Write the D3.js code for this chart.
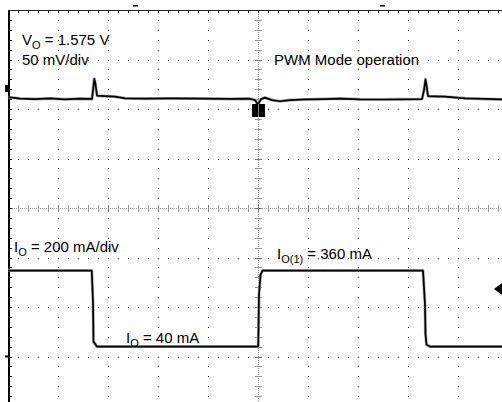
<!DOCTYPE html>
<html>
<head>
<meta charset="utf-8">
<script src="https://cdn.jsdelivr.net/npm/d3@7"></script>
<style>
  body { margin: 0; background: #fff; }
  svg { display: block; }
  text { font-family: "Liberation Sans", Arial, sans-serif; fill: #000; }
</style>
</head>
<body>
<div id="chart"></div>
<script>
// Scope screen: 10 x 8 divisions, right/bottom edges fall outside the picture.
var width = 502, height = 402;

// Channel 1 (V_O, 50 mV/div): time in divisions, deviation from 1.575 V in mV
var vTime = [0, 0.24, 0.54, 0.84, 1.14, 1.44, 1.68, 1.70, 1.726, 1.75, 1.78, 1.94, 2.14, 2.34, 2.74,
  3.24, 3.84, 4.44, 4.84, 4.94, 5.0, 5.06, 5.14, 5.28, 5.44, 5.64, 5.94, 6.34, 6.64, 7.04, 7.44,
  7.84, 8.28, 8.32, 8.35, 8.37, 8.40, 8.74, 9.14, 9.54, 9.88, 10];
var vMilli = [1.5, 0, -0.5, 0.2, -0.7, -0.1, -0.3, 8.5, 20, 14.5, 3, 2.5, 2, 0.3, -0.1,
  0.2, 0, -0.3, -0.1, -1.5, -6, -0.5, 1, -1.5, -2.7, -1.5, -0.8, -0.5, 0, -0.7, -0.9,
  -0.7, -0.5, 8.5, 19.5, 13.5, 2.5, 2, 0.3, -0.3, -0.8, -0.5];

// Channel 2 (I_O, 200 mA/div): time in divisions, current in mA
var iTime = [0, 1.675, 1.70, 1.71, 1.78, 5.0, 5.005, 5.02, 5.05, 5.09, 8.30, 8.34, 8.35, 8.37, 8.44, 10];
var iMilli = [347, 347, 220, 60, 40, 40, 45, 250, 330, 347, 347, 210, 90, 48, 40, 40];

var labels = [
  { x: 22, y: 45, main: "V", sub: "O", rest: " = 1.575 V" },
  { x: 22, y: 65, main: "50 mV/div", sub: "", rest: "" },
  { x: 274, y: 65, main: "PWM Mode operation", sub: "", rest: "" },
  { x: 14, y: 252, main: "I", sub: "O", rest: " = 200 mA/div" },
  { x: 277, y: 259, main: "I", sub: "O(1)", rest: " = 360 mA" },
  { x: 126, y: 343, main: "I", sub: "O", rest: " = 40 mA" }
];

var x = d3.scaleLinear().domain([0, 10]).range([8, 508]);
var yDiv = d3.scaleLinear().domain([0, 8]).range([406, 10]);

// channel offsets, in divisions from the bottom of the screen
var ch1Offset = 6.21, ch2Offset = 1;
var yV = d3.scaleLinear().domain([-ch1Offset * 50, (8 - ch1Offset) * 50]).range([406, 10]);
var yI = d3.scaleLinear().domain([-ch2Offset * 200, (8 - ch2Offset) * 200]).range([406, 10]);

var svg = d3.select("#chart").append("svg")
  .attr("width", width)
  .attr("height", height);

var grid = svg.append("g");
var minorX = d3.range(0, 10.01, 0.2);
var minorY = d3.range(0, 8.01, 0.2);

// dotted graticule lines
[1, 2, 3, 4, 6, 7, 8, 9].forEach(function(d) {
  grid.selectAll(null).data(minorY).enter().append("rect")
    .attr("x", Math.round(x(d)))
    .attr("y", function(v) { return Math.round(yDiv(v)); })
    .attr("width", 1).attr("height", 1)
    .attr("fill", "#222");
});
[1, 2, 3, 5, 6, 7].forEach(function(d) {
  grid.selectAll(null).data(minorX).enter().append("rect")
    .attr("x", function(v) { return Math.round(x(v)); })
    .attr("y", Math.round(yDiv(d)))
    .attr("width", 1).attr("height", 1)
    .attr("fill", "#222");
});

// centre axes with minor ticks
grid.append("line")
  .attr("x1", x(0)).attr("x2", x(10))
  .attr("y1", Math.round(yDiv(4)) + 0.5).attr("y2", Math.round(yDiv(4)) + 0.5)
  .attr("stroke", "#999").attr("stroke-dasharray", "1,1");
grid.append("line")
  .attr("x1", Math.round(x(5)) + 0.5).attr("x2", Math.round(x(5)) + 0.5)
  .attr("y1", yDiv(8)).attr("y2", yDiv(0))
  .attr("stroke", "#999").attr("stroke-dasharray", "1,1");
grid.selectAll(null).data(minorX).enter().append("line")
  .attr("x1", function(v) { return Math.round(x(v)) + 0.5; })
  .attr("x2", function(v) { return Math.round(x(v)) + 0.5; })
  .attr("y1", Math.round(yDiv(4)) - 3).attr("y2", Math.round(yDiv(4)) + 4)
  .attr("stroke", function(v) { return Math.abs(v - Math.round(v)) < 1e-6 ? "#777" : "#999"; });
grid.selectAll(null).data(minorY).enter().append("line")
  .attr("y1", function(v) { return Math.round(yDiv(v)) + 0.5; })
  .attr("y2", function(v) { return Math.round(yDiv(v)) + 0.5; })
  .attr("x1", Math.round(x(5)) - 3).attr("x2", Math.round(x(5)) + 4)
  .attr("stroke", function(v) { return Math.abs(v - Math.round(v)) < 1e-6 ? "#777" : "#999"; });

// border: top and left edges with ticks
grid.append("line")
  .attr("x1", x(0)).attr("x2", x(10))
  .attr("y1", yDiv(8) + 0.5).attr("y2", yDiv(8) + 0.5)
  .attr("stroke", "#222");
grid.selectAll(null).data(minorX).enter().append("rect")
  .attr("x", function(v) { return Math.round(x(v)); })
  .attr("y", yDiv(8) + 1).attr("width", 1).attr("height", 2)
  .attr("fill", "#222");
grid.append("line")
  .attr("x1", x(0) + 1).attr("x2", x(0) + 1)
  .attr("y1", yDiv(8)).attr("y2", height)
  .attr("stroke", "#000").attr("stroke-width", 2);
grid.selectAll(null).data(minorY).enter().append("rect")
  .attr("x", x(0) + 2)
  .attr("y", function(v) { return Math.round(yDiv(v)); })
  .attr("width", 2).attr("height", 1)
  .attr("fill", "#222");

// traces
var vLine = d3.line()
  .x(function(d, i) { return x(vTime[i]); })
  .y(function(d) { return yV(d); });
var iLine = d3.line()
  .x(function(d, i) { return x(iTime[i]); })
  .y(function(d) { return yI(d); });

[[vMilli, vLine], [iMilli, iLine]].forEach(function(t) {
  svg.append("path").attr("d", t[1](t[0]))
    .attr("fill", "none").attr("stroke", "#aaa").attr("stroke-width", 3)
    .attr("stroke-linejoin", "round");
  svg.append("path").attr("d", t[1](t[0]))
    .attr("fill", "none").attr("stroke", "#000").attr("stroke-width", 1.7)
    .attr("stroke-linejoin", "round");
});

// scope markers
var markers = svg.append("g");
markers.append("rect").attr("x", x(5) - 6).attr("y", 104).attr("width", 13).attr("height", 13).attr("fill", "#000");
markers.append("rect").attr("x", x(5)).attr("y", 104).attr("width", 1).attr("height", 13).attr("fill", "#888");
markers.append("rect").attr("x", 5).attr("y", 85).attr("width", 5).attr("height", 7).attr("fill", "#000");
markers.append("rect").attr("x", 5).attr("y", yI(0) - 1).attr("width", 4).attr("height", 2).attr("fill", "#000");
markers.append("rect").attr("x", 133).attr("y", 5).attr("width", 5).attr("height", 1.5).attr("fill", "#000");
markers.append("rect").attr("x", 380).attr("y", 5).attr("width", 5).attr("height", 1.5).attr("fill", "#000");
markers.append("path").attr("d", "M494,289L502,283L502,295Z").attr("fill", "#000");

// annotations
labels.forEach(function(l) {
  var t = svg.append("text").attr("x", l.x).attr("y", l.y).style("font-size", "15px");
  t.append("tspan").text(l.main);
  if (l.sub) {
    t.append("tspan").attr("dy", 4).style("font-size", "11px").text(l.sub);
    t.append("tspan").attr("dy", -4).text(l.rest);
  }
});
</script>
</body>
</html>
